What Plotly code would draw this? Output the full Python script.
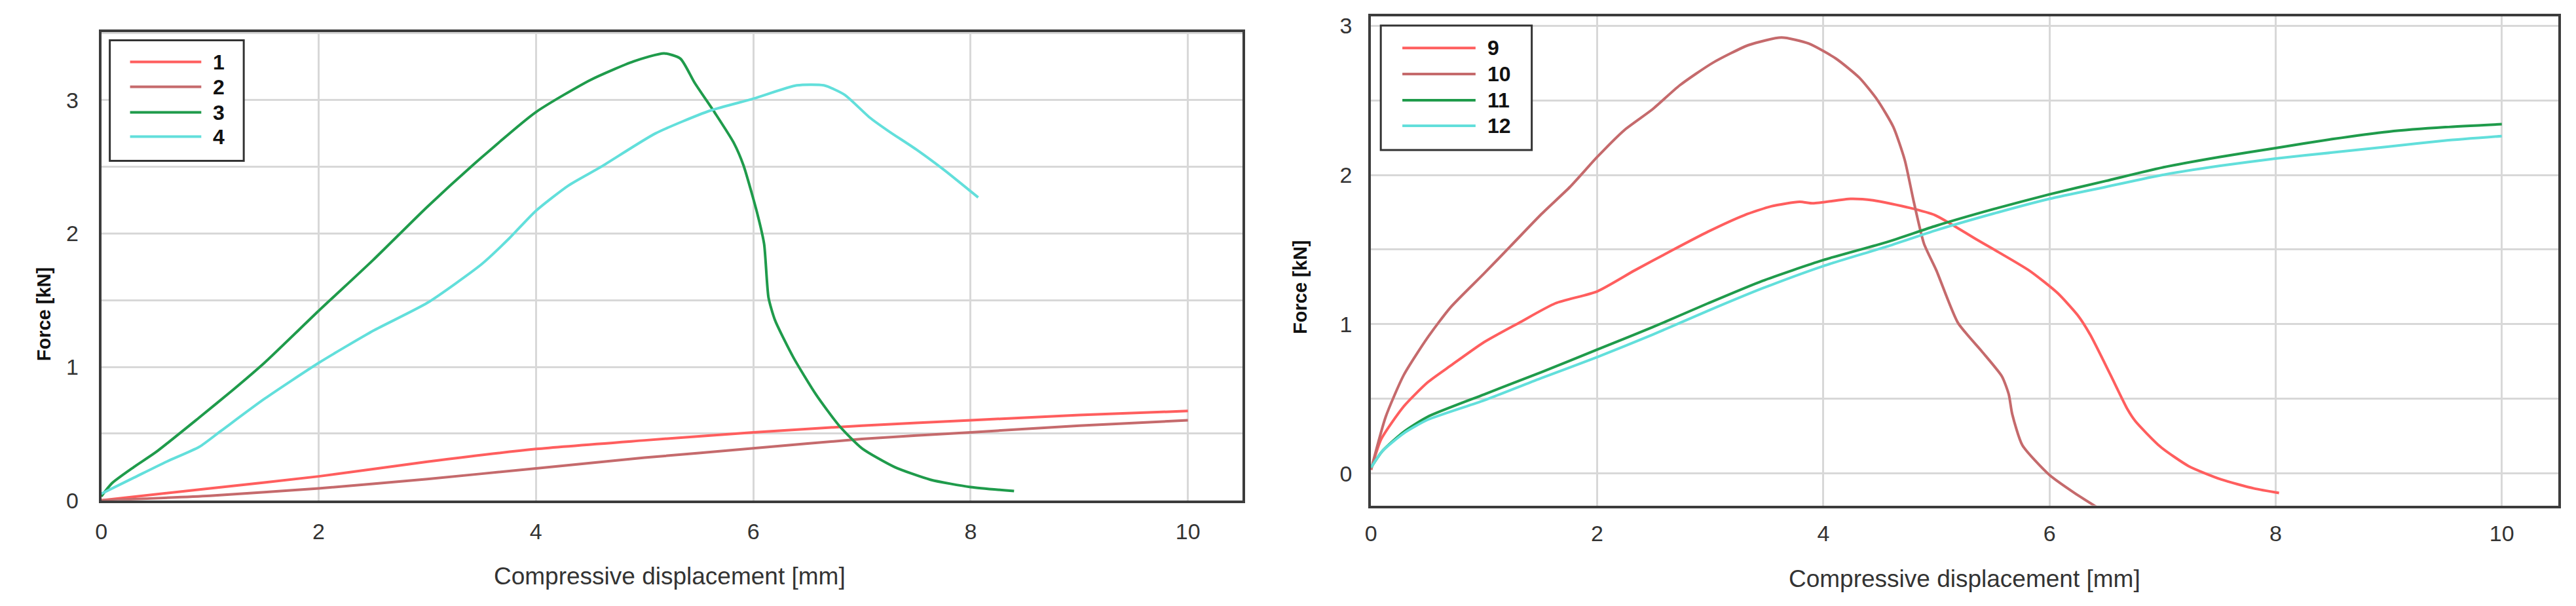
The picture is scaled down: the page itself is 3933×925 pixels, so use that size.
import plotly.graph_objects as go

# ---- data ----
names_left = ["1", "2", "3", "4"]
names_right = ["9", "10", "11", "12"]

x1 = [0, 1, 2, 3, 4, 5, 6, 7, 8, 9, 10]
y1 = [0, 0.09, 0.18, 0.29, 0.385, 0.45, 0.51, 0.56, 0.60, 0.64, 0.67]

x2 = [0, 1, 2, 3, 4, 5, 6, 7, 8, 9, 10]
y2 = [0, 0.035, 0.09, 0.16, 0.24, 0.32, 0.39, 0.46, 0.51, 0.56, 0.60]

x3 = [0, 0.1, 0.3, 0.5, 0.9, 1.2, 1.5, 2.0, 2.5, 3.0, 3.5, 4.0, 4.5, 4.9, 5.18,
      5.33, 5.46, 5.65, 5.82, 5.91, 6.04, 6.10, 6.14, 6.2, 6.37, 6.58, 6.79,
      7.0, 7.3, 7.63, 8.0, 8.4]
y3 = [0.03, 0.13, 0.25, 0.36, 0.62, 0.82, 1.03, 1.42, 1.8, 2.2, 2.57, 2.91,
      3.15, 3.29, 3.35, 3.31, 3.13, 2.90, 2.68, 2.51, 2.14, 1.92, 1.52, 1.35,
      1.07, 0.79, 0.56, 0.39, 0.25, 0.155, 0.1, 0.07]

x4 = [0, 0.3, 0.6, 0.9, 1.1, 1.5, 2.0, 2.5, 3.0, 3.5, 3.75, 4.0, 4.3, 4.6, 5.1,
      5.6, 6.0, 6.4, 6.65, 6.84, 7.07, 7.24, 7.5, 7.75, 8.07]
y4 = [0.05, 0.17, 0.29, 0.40, 0.52, 0.76, 1.03, 1.27, 1.48, 1.77, 1.96, 2.17,
      2.36, 2.50, 2.75, 2.92, 3.01, 3.11, 3.11, 3.04, 2.87, 2.77, 2.63, 2.48, 2.27]

x9 = [0, 0.09, 0.29, 0.5, 0.7, 1.0, 1.31, 1.63, 2.0, 2.33, 2.65, 2.98, 3.30,
      3.54, 3.79, 3.91, 4.24, 4.44, 4.76, 4.99, 5.35, 5.82, 6.07, 6.25, 6.36,
      6.54, 6.69, 6.76, 6.98, 7.23, 7.52, 7.81, 8.03]
y9 = [0.025, 0.23, 0.45, 0.61, 0.72, 0.88, 1.01, 1.14, 1.22, 1.36, 1.49, 1.62,
      1.73, 1.79, 1.82, 1.81, 1.84, 1.83, 1.78, 1.73, 1.57, 1.36, 1.21, 1.06,
      0.93, 0.66, 0.43, 0.35, 0.18, 0.05, -0.04, -0.10, -0.13]

x10 = [0, 0.13, 0.29, 0.5, 0.7, 1.0, 1.23, 1.51, 1.76, 2.0, 2.24, 2.49, 2.73,
       3.02, 3.34, 3.63, 3.87, 4.11, 4.32, 4.48, 4.62, 4.72, 4.80, 4.89, 5.0,
       5.19, 5.40, 5.58, 5.64, 5.67, 5.76, 6.0, 6.22, 6.45]
y10 = [0.025, 0.38, 0.66, 0.91, 1.11, 1.34, 1.52, 1.74, 1.92, 2.12, 2.30, 2.44,
       2.60, 2.75, 2.87, 2.92, 2.88, 2.78, 2.65, 2.50, 2.32, 2.10, 1.82, 1.54,
       1.36, 1.01, 0.82, 0.65, 0.53, 0.40, 0.19, -0.01, -0.13, -0.24]

x11 = [0, 0.1, 0.29, 0.5, 1.0, 1.51, 2.0, 2.49, 2.98, 3.46, 4.0, 4.56, 5.0, 5.5,
       6.0, 6.5, 7.0, 7.5, 8.0, 8.5, 9.0, 9.5, 10.0]
y11 = [0.04, 0.15, 0.28, 0.38, 0.53, 0.68, 0.83, 0.98, 1.14, 1.29, 1.43, 1.55,
       1.66, 1.77, 1.87, 1.96, 2.05, 2.12, 2.18, 2.24, 2.29, 2.32, 2.34]

x12 = [0, 0.1, 0.29, 0.5, 1.0, 1.51, 2.0, 2.49, 2.98, 3.46, 4.0, 4.56, 5.0, 5.5,
       6.0, 6.5, 7.0, 7.5, 8.0, 8.5, 9.0, 9.5, 10.0]
y12 = [0.04, 0.15, 0.27, 0.36, 0.49, 0.64, 0.78, 0.93, 1.09, 1.24, 1.39, 1.52,
       1.63, 1.74, 1.84, 1.92, 2.00, 2.06, 2.11, 2.15, 2.19, 2.23, 2.26]

x_ticks = [0, 2, 4, 6, 8, 10]
y_grid = [-0.5, 0, 0.5, 1, 1.5, 2, 2.5, 3, 3.5]
y_text = ["", "0", "", "1", "", "2", "", "3", ""]

colors = ["#ff5e5e", "#c56a6c", "#1f9b4b", "#62dfdb"]

W, H = 3933, 925


def px(x):
    return x / W


def py(y):
    return 1 - y / H


fig = go.Figure()

left = [(x1, y1), (x2, y2), (x3, y3), (x4, y4)]
right = [(x9, y9), (x10, y10), (x11, y11), (x12, y12)]
for i, (xs, ys) in enumerate(left):
    fig.add_trace(go.Scatter(x=xs, y=ys, mode="lines", name=names_left[i],
                             line=dict(color=colors[i], width=4, shape="spline", smoothing=0.6),
                             showlegend=False, xaxis="x", yaxis="y"))
for i, (xs, ys) in enumerate(right):
    fig.add_trace(go.Scatter(x=xs, y=ys, mode="lines", name=names_right[i],
                             line=dict(color=colors[i], width=4, shape="spline", smoothing=0.6),
                             showlegend=False, xaxis="x2", yaxis="y2"))

tick_font = dict(family="Liberation Sans, Arial", size=34, color="#333333")
frame = dict(showline=True, linecolor="#3c3c3c", linewidth=4, mirror=True,
             showgrid=True, gridcolor="#d8d8d8", gridwidth=3, zeroline=False,
             ticks="", tickfont=tick_font)

fig.update_layout(
    width=W, height=H, autosize=False,
    margin=dict(l=0, r=0, t=0, b=0),
    paper_bgcolor="white", plot_bgcolor="white",
    xaxis=dict(domain=[px(146), px(1892)], range=[0, 10.5], tickvals=x_ticks, anchor="y",
               ticklabelstandoff=14, **frame),
    yaxis=dict(domain=[py(779), py(45)], range=[0, 3.51], tickvals=y_grid, ticktext=y_text,
               anchor="x", ticklabelstandoff=24, **frame),
    xaxis2=dict(domain=[px(2089), px(3906)], range=[0, 10.5], tickvals=x_ticks, anchor="y2",
                ticklabelstandoff=10, **frame),
    yaxis2=dict(domain=[py(787), py(21)], range=[-0.214, 3.06], tickvals=y_grid, ticktext=y_text,
                anchor="x2", ticklabelstandoff=18, **frame),
)

title_font = dict(family="Liberation Sans, Arial", size=37, color="#333333")
ylab_font = dict(family="Liberation Sans, Arial", size=29, color="#111111")
ann = [
    dict(text="Compressive displacement [mm]", x=px(1016), y=py(898), font=title_font),
    dict(text="Compressive displacement [mm]", x=px(2997), y=py(902), font=title_font),
    dict(text="<b>Force [kN]</b>", x=px(58), y=py(487), textangle=-90, font=ylab_font),
    dict(text="<b>Force [kN]</b>", x=px(1981), y=py(445), textangle=-90, font=ylab_font),
]
for a in ann:
    a.update(xref="paper", yref="paper", showarrow=False, xanchor="center", yanchor="middle")
    fig.add_annotation(**a)

# legends drawn as boxes with sample lines and bold labels
legend_font = dict(family="Liberation Sans, Arial", size=32, color="#111111")
boxes = [
    dict(box=(159, 58, 364, 247), rows=[92, 131, 171, 209], line=(190, 299), tx=315, names=names_left),
    dict(box=(2104, 35, 2335, 230), rows=[70, 111, 152, 192], line=(2137, 2249), tx=2265, names=names_right),
]
for b in boxes:
    x0, y0, x1b, y1b = b["box"]
    fig.add_shape(type="rect", xref="paper", yref="paper",
                  x0=px(x0), x1=px(x1b), y0=py(y1b), y1=py(y0),
                  line=dict(color="#333333", width=3), fillcolor="white", layer="above")
    for i, ry in enumerate(b["rows"]):
        fig.add_shape(type="line", xref="paper", yref="paper",
                      x0=px(b["line"][0]), x1=px(b["line"][1]), y0=py(ry), y1=py(ry),
                      line=dict(color=colors[i], width=4), layer="above")
        fig.add_annotation(text="<b>" + b["names"][i] + "</b>", xref="paper", yref="paper",
                           x=px(b["tx"]), y=py(ry), xanchor="left", yanchor="middle",
                           showarrow=False, font=legend_font)

fig.write_html("out.html", config={"displayModeBar": False},
               post_script="document.body.style.margin='0';document.body.style.overflow='hidden';")
